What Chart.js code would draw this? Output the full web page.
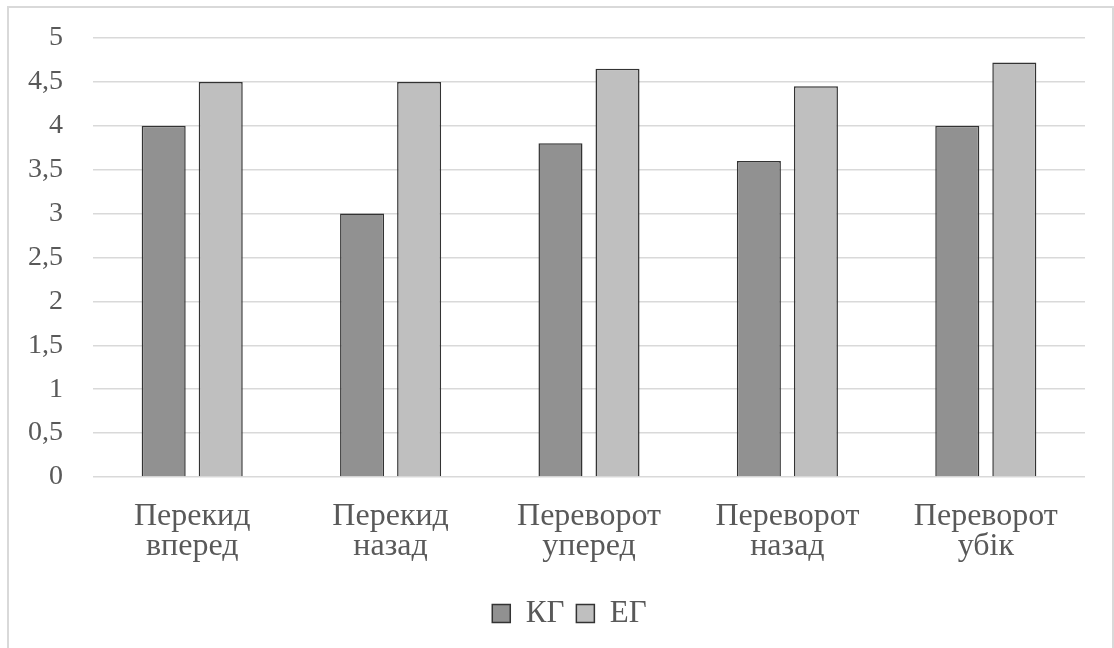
<!DOCTYPE html>
<html>
<head>
<meta charset="utf-8">
<script src="https://cdn.jsdelivr.net/npm/chart.js@4/dist/chart.umd.min.js"></script>
<style>
  html, body { margin: 0; padding: 0; background: #fff; }
  #wrap { position: relative; width: 1114px; height: 648px; }
  canvas { display: block; }
</style>
</head>
<body>
<div id="wrap"><canvas id="c" width="1114" height="648"></canvas></div>
<script>
// Exercises (two-line category labels)
const categories = [
  ['Перекид', 'вперед'],
  ['Перекид', 'назад'],
  ['Переворот', 'уперед'],
  ['Переворот', 'назад'],
  ['Переворот', 'убік']
];
const seriesNames = ['КГ', 'ЕГ'];
const kgValues = [4, 3, 3.8, 3.6, 4];
const egValues = [4.5, 4.5, 4.65, 4.45, 4.72];
const yTicks = [0, 0.5, 1, 1.5, 2, 2.5, 3, 3.5, 4, 4.5, 5];

const FONT = "'Liberation Serif', 'Times New Roman', serif";
const TEXT = '#595959';

// Light frame around the whole chart area
const framePlugin = {
  id: 'frame',
  beforeDraw(chart) {
    const ctx = chart.ctx;
    ctx.save();
    ctx.fillStyle = '#fff';
    ctx.fillRect(0, 0, chart.width, chart.height);
    ctx.strokeStyle = '#d9d9d9';
    ctx.lineWidth = 2;
    ctx.strokeRect(8, 7, 1105, 700);
    ctx.restore();
  }
};

// Nudge the legend row slightly to the right of centre
const legendShift = {
  id: 'legendShift',
  afterLayout(chart) {
    if (chart.legend) {
      chart.legend.left += 27;
      chart.legend.right += 27;
    }
  }
};

new Chart(document.getElementById('c'), {
  type: 'bar',
  data: {
    labels: categories,
    datasets: [
      { label: seriesNames[0], data: kgValues, backgroundColor: '#919191', borderColor: '#333333', borderWidth: 1.5 },
      { label: seriesNames[1], data: egValues, backgroundColor: '#bfbfbf', borderColor: '#333333', borderWidth: 1.5 }
    ]
  },
  options: {
    responsive: false,
    animation: false,
    devicePixelRatio: 1,
    datasets: { bar: { categoryPercentage: 0.575, barPercentage: 0.772 } },
    layout: { padding: { top: 38, right: 29, left: 0, bottom: 9 } },
    plugins: {
      tooltip: { enabled: false },
      legend: {
        position: 'bottom',
        labels: {
          font: { family: FONT, size: 31 },
          color: TEXT,
          boxWidth: 18,
          boxHeight: 18,
          padding: 12
        }
      }
    },
    scales: {
      x: {
        grid: { display: false, drawTicks: false },
        border: { display: false },
        ticks: {
          font: { family: FONT, size: 32, lineHeight: '30px' },
          color: TEXT,
          padding: 25,
          maxRotation: 0,
          autoSkip: false
        },
        afterFit(scale) { scale.height = 109; }
      },
      y: {
        min: 0,
        max: 5,
        afterBuildTicks(scale) { scale.ticks = yTicks.map(v => ({ value: v })); },
        grid: { color: '#d9d9d9', lineWidth: 1.5, drawTicks: false },
        border: { display: false },
        ticks: {
          font: { family: FONT, size: 28 },
          color: TEXT,
          padding: 30,
          callback: v => String(v).replace('.', ',')
        },
        afterFit(scale) {
          scale.width = 93;
          scale.paddingTop = 0;
          scale.paddingBottom = 0;
        }
      }
    }
  },
  plugins: [framePlugin, legendShift]
});
</script>
</body>
</html>
